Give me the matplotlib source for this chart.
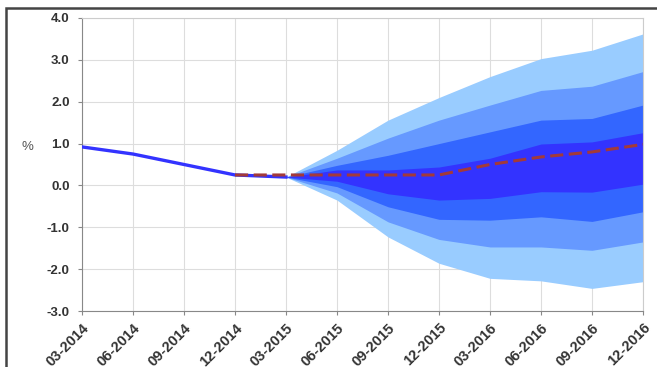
"""Fan chart: inflation projection with widening uncertainty bands."""
import numpy as np
import matplotlib.pyplot as plt
from matplotlib.patches import Rectangle

quarters = ["03-2014", "06-2014", "09-2014", "12-2014", "03-2015", "06-2015",
            "09-2015", "12-2015", "03-2016", "06-2016", "09-2016", "12-2016"]

# observed series (03-2014 .. 03-2015)
actual = [0.92, 0.75, 0.50, 0.25, 0.20]
# central projection (12-2014 .. 12-2016)
central = [0.25, 0.25, 0.25, 0.25, 0.25, 0.50, 0.68, 0.80, 0.98]

# fan bands (03-2015 .. 12-2016), outermost to innermost
outer_top = [0.20, 0.84, 1.56, 2.10, 2.60, 3.03, 3.23, 3.62]
outer_bot = [0.20, -0.35, -1.23, -1.86, -2.22, -2.28, -2.46, -2.30]
mid_top = [0.20, 0.65, 1.13, 1.56, 1.92, 2.27, 2.37, 2.72]
mid_bot = [0.20, -0.18, -0.87, -1.29, -1.47, -1.47, -1.55, -1.35]
inner_top = [0.20, 0.48, 0.72, 1.00, 1.28, 1.56, 1.60, 1.92]
inner_bot = [0.20, -0.03, -0.51, -0.81, -0.83, -0.75, -0.86, -0.63]
core_top = [0.20, 0.37, 0.37, 0.44, 0.65, 0.99, 1.04, 1.26]
core_bot = [0.20, 0.10, -0.20, -0.35, -0.31, -0.15, -0.16, 0.03]

x = np.arange(len(quarters))
x_act = x[:len(actual)]
x_cen = x[len(quarters) - len(central):]
x_fan = x[len(quarters) - len(outer_top):]

fig = plt.figure(figsize=(6.57, 3.67), dpi=100)
ax = fig.add_axes([82 / 657, 1 - 311 / 367, (643 - 82) / 657, (311 - 18) / 367])

bands = [(outer_bot, outer_top, "#99ccff"),
         (mid_bot, mid_top, "#6699ff"),
         (inner_bot, inner_top, "#3366ff"),
         (core_bot, core_top, "#3333ff")]
for lo, hi, col in bands:
    ax.fill_between(x_fan, lo, hi, color=col, lw=0, zorder=2)

ax.plot(x_act, actual, color="#3333ff", lw=2.4, zorder=3)
ax.plot(x_cen, central, color="#a33a3a", lw=2.2, ls=(0, (4.3, 1.8)), zorder=4)

ax.set_xlim(0, len(quarters) - 1)
ax.set_ylim(-3, 4)
ax.set_yticks(np.arange(-3, 5))
ax.set_yticklabels([f"{v:.1f}" for v in np.arange(-3, 5)])
ax.set_xticks(x)
ax.set_xticklabels(quarters, rotation=45, ha="right", rotation_mode="anchor")

for lab in ax.get_yticklabels():
    lab.set_fontfamily("Liberation Sans")
    lab.set_fontweight("bold")
    lab.set_fontsize(9.5)
    lab.set_color("#333333")
for lab in ax.get_xticklabels():
    lab.set_fontfamily("Liberation Sans")
    lab.set_fontweight("bold")
    lab.set_fontsize(10.5)
    lab.set_color("#333333")

ax.tick_params(axis="both", length=3, width=0.8, color="#888888")
ax.tick_params(axis="y", pad=6)
ax.tick_params(axis="x", pad=4)
ax.grid(True, color="#dddddd", lw=0.8, zorder=0)
ax.set_axisbelow(True)
for side in ("left", "bottom"):
    ax.spines[side].set_color("#888888")
for side in ("right", "top"):
    ax.spines[side].set_color("#cccccc")

fig.text(27 / 657, 1 - 147 / 367, "%", fontsize=9.5, color="#555555",
         family="Liberation Sans", ha="center", va="center")

# outer frame of the (cropped) panel
fig.patches.append(Rectangle((6 / 657, -0.1), 1.2, 1 - 8 / 367 + 0.1,
                             transform=fig.transFigure, fill=False,
                             ec="#444444", lw=1.8))

fig.savefig("out.png", dpi=100)
